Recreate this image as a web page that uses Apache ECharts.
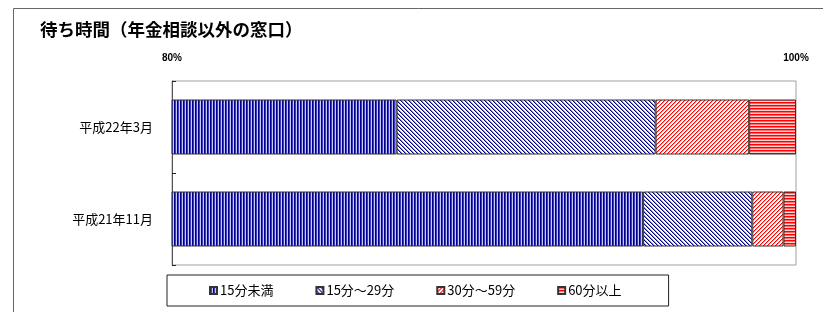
<!DOCTYPE html>
<html>
<head>
<meta charset="utf-8">
<script src="https://cdn.jsdelivr.net/npm/echarts@6/dist/echarts.min.js"></script>
<style>
  html, body { margin: 0; padding: 0; background: #fff; }
  #chart { width: 823px; height: 312px; }
</style>
</head>
<body>
<div id="chart"></div>
<script>
// data (percent, axis starts at 80%)
const categories = ['平成22年3月', '平成21年11月'];
const seriesNames = ['15分未満', '15分～29分', '30分～59分', '60分以上'];
const under15 = [87.2, 95.1];
const from15to29 = [8.3, 3.5];
const from30to59 = [3.0, 1.0];
const over60 = [1.5, 0.4];
const xTicks = [80, 100];

// small canvas fills to mimic the hatch patterns
const makePattern = (w, h, pixelColor) => {
  const c = document.createElement('canvas');
  c.width = w;
  c.height = h;
  const ctx = c.getContext('2d');
  for (let y = 0; y < h; y++) {
    for (let x = 0; x < w; x++) {
      ctx.fillStyle = pixelColor(x, y);
      ctx.fillRect(x, y, 1, 1);
    }
  }
  return { image: c, repeat: 'repeat' };
};

const patterns = [
  // vertical navy stripes
  makePattern(3, 3, (x) => ['#000080', '#3c3cc8', '#c8c8ff'][x]),
  // "\" navy hatch on white
  makePattern(4, 4, (x, y) => {
    const d = (x - y + 4) % 4;
    return d === 0 ? '#000080' : d === 1 ? '#8c8cd8' : '#ffffff';
  }),
  // "/" red hatch on white
  makePattern(4, 4, (x, y) => {
    const d = (x + y) % 4;
    return d === 0 ? '#ff0000' : d === 1 ? '#ff9a9a' : '#ffffff';
  }),
  // horizontal red stripes
  makePattern(3, 3, (x, y) => ['#ff0000', '#ff6a6a', '#ffd4d4'][y]),
];

const values = [under15, from15to29, from30to59, over60];

const chart = echarts.init(document.getElementById('chart'));

const option = {
  animation: false,
  title: {
    text: '待ち時間（年金相談以外の窓口）',
    left: 40,
    top: 21,
    padding: 0,
    textStyle: { fontFamily: 'Noto Sans CJK JP', fontSize: 17.5, fontWeight: 'bold', color: '#000' },
  },
  legend: {
    data: seriesNames,
    left: 167,
    top: 275,
    orient: 'horizontal',
    icon: 'rect',
    itemWidth: 7,
    itemHeight: 7,
    itemGap: 42,
    padding: [9, 47, 9, 42],
    borderColor: '#222',
    borderWidth: 1,
    textStyle: { fontFamily: 'Noto Sans CJK JP', fontSize: 13, color: '#000', padding: [0, 0, 0, -2] },
  },
  grid: {
    left: 172,
    right: 27,
    top: 81,
    bottom: 47,
    show: true,
    borderColor: '#a0a0a0',
    borderWidth: 1,
  },
  xAxis: {
    type: 'value',
    position: 'top',
    min: xTicks[0],
    max: xTicks[1],
    interval: xTicks[1] - xTicks[0],
    axisLine: { show: false },
    axisTick: { show: false },
    splitLine: { show: false },
    axisLabel: {
      formatter: '{value}%',
      margin: 18,
      fontFamily: 'Liberation Sans',
      fontSize: 10,
      fontWeight: 'bold',
      color: '#000',
    },
  },
  yAxis: {
    type: 'category',
    data: categories,
    inverse: true,
    axisLine: { show: true, lineStyle: { color: '#555', width: 1 } },
    axisTick: { show: true, inside: true, length: 4, lineStyle: { color: '#222' } },
    axisLabel: {
      margin: 19,
      fontFamily: 'Noto Sans CJK JP',
      fontSize: 13,
      color: '#000',
    },
  },
  graphic: [
    {
      type: 'polyline',
      shape: { points: [[13.5, 312], [13.5, 8.5], [823, 8.5]] },
      style: { stroke: '#666', lineWidth: 1, fill: null },
      silent: true,
    },
  ],
  series: seriesNames.map((name, i) => ({
    name,
    type: 'bar',
    stack: 'total',
    barWidth: 55,
    data: values[i],
    itemStyle: {
      color: patterns[i],
      borderColor: '#333',
      borderWidth: 1,
    },
  })),
};

chart.setOption(option);
</script>
</body>
</html>
